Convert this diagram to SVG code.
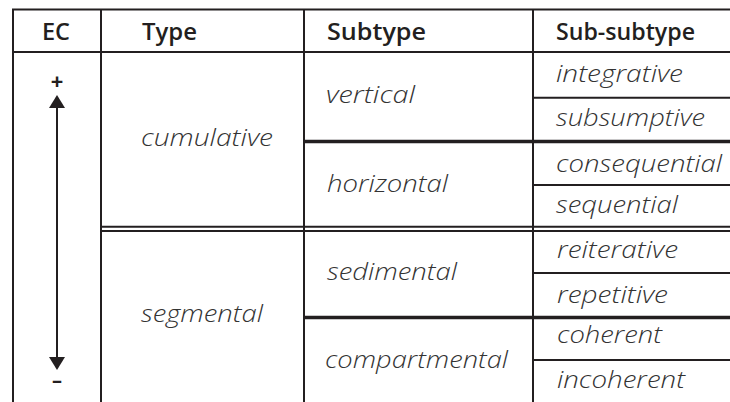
<svg xmlns="http://www.w3.org/2000/svg" width="730" height="402" viewBox="0 0 730 402">
<style>
.ln{stroke:#231f20;stroke-width:2;fill:none}
.thk{stroke:#231f20;stroke-width:3.5;fill:none}
.hd{font-family:"Open Sans","Liberation Sans",sans-serif;font-weight:600;font-size:23.5px;fill:#231f20}
.it{font-family:"Open Sans","Liberation Sans",sans-serif;font-style:italic;font-weight:300;font-size:23px;fill:#333}
.sym{font-family:"Open Sans","Liberation Sans",sans-serif;font-weight:700;fill:#231f20;text-anchor:middle}
</style>
<rect width="730" height="402" fill="#fff"/>
<g id="grid">
<line class="ln" x1="12" y1="9.5" x2="730" y2="9.5"/>
<line class="ln" x1="12" y1="52" x2="730" y2="52"/>
<line class="ln" x1="13" y1="9" x2="13" y2="402"/>
<line class="ln" x1="101" y1="9" x2="101" y2="402"/>
<line class="ln" x1="304" y1="9" x2="304" y2="402"/>
<line class="ln" x1="533" y1="9" x2="533" y2="402"/>
<line class="ln" x1="533" y1="97.7" x2="730" y2="97.7"/>
<line class="thk" x1="304" y1="141.5" x2="730" y2="141.5"/>
<line class="ln" x1="533" y1="185" x2="730" y2="185"/>
<line class="ln" x1="101" y1="226.7" x2="730" y2="226.7"/>
<line class="ln" x1="101" y1="231" x2="730" y2="231"/>
<line class="ln" x1="533" y1="273" x2="730" y2="273"/>
<line class="thk" x1="304" y1="317.5" x2="730" y2="317.5"/>
<line class="ln" x1="533" y1="360" x2="730" y2="360"/>
</g>
<g id="header">
<text class="hd" x="42" y="40" textLength="28" lengthAdjust="spacingAndGlyphs">EC</text>
<text class="hd" x="142" y="40" textLength="55" lengthAdjust="spacingAndGlyphs">Type</text>
<text class="hd" x="327" y="40" textLength="99" lengthAdjust="spacingAndGlyphs">Subtype</text>
<text class="hd" x="556" y="40" textLength="139" lengthAdjust="spacingAndGlyphs">Sub-subtype</text>
</g>
<g id="ec-arrow">
<line class="ln" x1="57" y1="106" x2="57" y2="359"/>
<polygon points="57,95 49,108 65,108" fill="#231f20"/>
<polygon points="57,370 49,357 65,357" fill="#231f20"/>
<text class="sym" x="57" y="89" font-size="22">+</text>
<text class="sym" x="57" y="387" font-size="20">–</text>
</g>
<g id="type-cumulative"><text class="it" x="141" y="146" textLength="132" lengthAdjust="spacingAndGlyphs">cumulative</text></g>
<g id="type-segmental"><text class="it" x="141" y="322" textLength="122" lengthAdjust="spacingAndGlyphs">segmental</text></g>
<g id="sub-vertical"><text class="it" x="326" y="103" textLength="89" lengthAdjust="spacingAndGlyphs">vertical</text></g>
<g id="sub-horizontal"><text class="it" x="327" y="192" textLength="121" lengthAdjust="spacingAndGlyphs">horizontal</text></g>
<g id="sub-sedimental"><text class="it" x="327" y="280" textLength="130" lengthAdjust="spacingAndGlyphs">sedimental</text></g>
<g id="sub-compartmental"><text class="it" x="325" y="368" textLength="183" lengthAdjust="spacingAndGlyphs">compartmental</text></g>
<g id="ss-integrative"><text class="it" x="556" y="82" textLength="127" lengthAdjust="spacingAndGlyphs">integrative</text></g>
<g id="ss-subsumptive"><text class="it" x="556" y="126" textLength="149" lengthAdjust="spacingAndGlyphs">subsumptive</text></g>
<g id="ss-consequential"><text class="it" x="556" y="172" textLength="166" lengthAdjust="spacingAndGlyphs">consequential</text></g>
<g id="ss-sequential"><text class="it" x="556" y="213" textLength="122" lengthAdjust="spacingAndGlyphs">sequential</text></g>
<g id="ss-reiterative"><text class="it" x="557" y="258" textLength="121" lengthAdjust="spacingAndGlyphs">reiterative</text></g>
<g id="ss-repetitive"><text class="it" x="557" y="303" textLength="111" lengthAdjust="spacingAndGlyphs">repetitive</text></g>
<g id="ss-coherent"><text class="it" x="557" y="343" textLength="105" lengthAdjust="spacingAndGlyphs">coherent</text></g>
<g id="ss-incoherent"><text class="it" x="557" y="388" textLength="128" lengthAdjust="spacingAndGlyphs">incoherent</text></g>
</svg>
